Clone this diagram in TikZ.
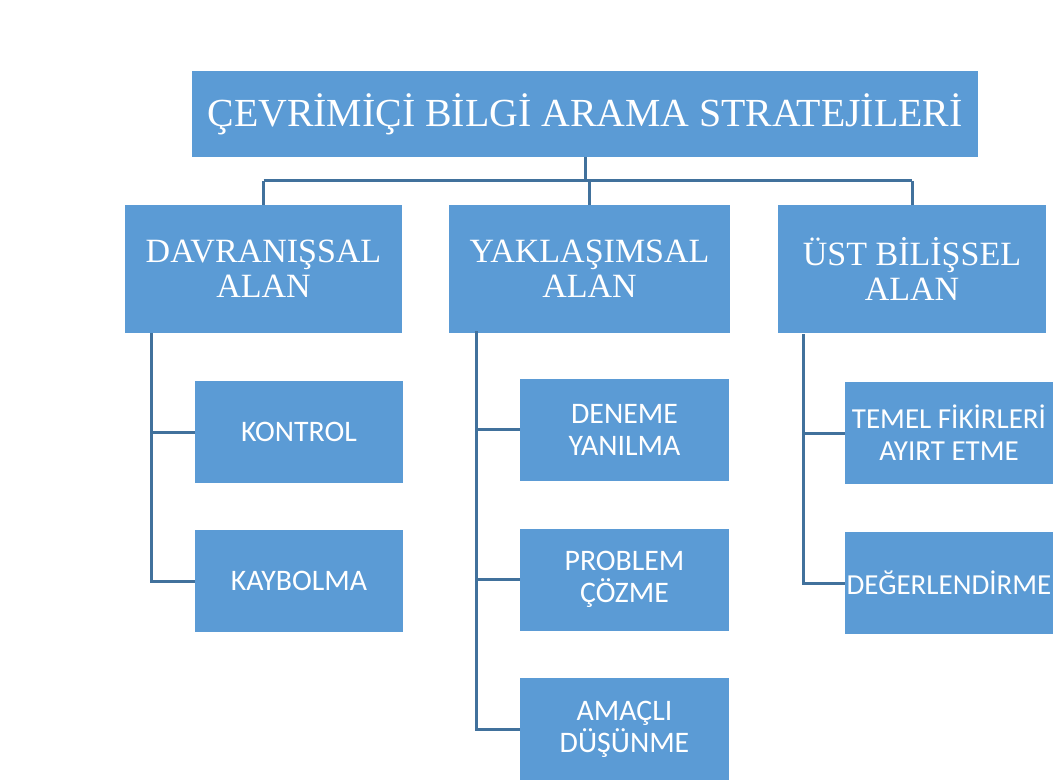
\documentclass[tikz,border=0pt]{standalone}
\usepackage{fontspec}
\newfontfamily\titleserif{Liberation Serif}
\newfontfamily\boxsans{Carlito}
\definecolor{boxblue}{HTML}{5B9BD5}
\definecolor{linkblue}{HTML}{41719C}
\begin{document}
\begin{tikzpicture}[x=1pt,y=-1pt,
  box/.style={rectangle,fill=boxblue,text=white,inner sep=0pt,align=center},
  topbox/.style={box,minimum width=786pt,minimum height=86pt,font=\titleserif\fontsize{39.8}{40}\selectfont},
  midbox/.style={box,minimum height=128pt,font=\titleserif\fontsize{34}{35}\selectfont},
  leafbox/.style={box,minimum width=208pt,minimum height=102pt,font=\boxsans\fontsize{29.8}{32}\selectfont},
  narrowleaf/.style={leafbox,font=\boxsans\fontsize{29}{32}\selectfont},
  link/.style={draw=linkblue,line width=3pt}]
\useasboundingbox (0,0) rectangle (1058,781);
\fill[white] (0,0) rectangle (1058,781);

\node[topbox] (top) at (585,114) {ÇEVRİMİÇİ BİLGİ ARAMA STRATEJİLERİ};

\node[midbox,minimum width=277pt] (b1) at (263.5,269) {DAVRANIŞSAL\\ALAN};
\node[midbox,minimum width=281pt] (b2) at (589.5,269) {YAKLAŞIMSAL\\ALAN};
\node[midbox,minimum width=268pt] (b3) at (912,269) {ÜST BİLİŞSEL\\ALAN};

\node[leafbox] (kontrol) at (299,432) {KONTROL};
\node[leafbox] (kaybolma) at (299,581) {KAYBOLMA};

\node[leafbox,minimum width=209pt] (deneme) at (624.5,429.5) {DENEME\\YANILMA};
\node[leafbox,minimum width=209pt] (problem) at (624.5,579.5) {PROBLEM\\ÇÖZME};
\node[leafbox,minimum width=209pt] (amacli) at (624.5,729) {AMAÇLI\\DÜŞÜNME};

\node[narrowleaf] (temel) at (949,433) {TEMEL FİKİRLERİ\\AYIRT ETME};
\node[narrowleaf] (deger) at (949,583) {DEĞERLENDİRME};

% top connectors
\coordinate (bar) at (585,181);
\draw[link] (top.south) -- (top.south |- bar);
\draw[link] (b1.north |- bar) -- (b3.north |- bar);
\draw[link] (b1.north |- bar) -- (b1.north);
\draw[link] (b2.north |- bar) -- (b2.north);
\draw[link] (b3.north |- bar) -- (b3.north);

% column connectors
\coordinate (c1) at (151,333);
\coordinate (c2) at (476,331);
\coordinate (c3) at (803,334);
\draw[link] (c1) |- (kaybolma.west);
\draw[link] (c1 |- kontrol.west) -- (kontrol.west);
\draw[link] (c2) |- (amacli.west);
\draw[link] (c2 |- deneme.west) -- (deneme.west);
\draw[link] (c2 |- problem.west) -- (problem.west);
\draw[link] (c3) |- (deger.west);
\draw[link] (c3 |- temel.west) -- (temel.west);
\end{tikzpicture}
\end{document}
